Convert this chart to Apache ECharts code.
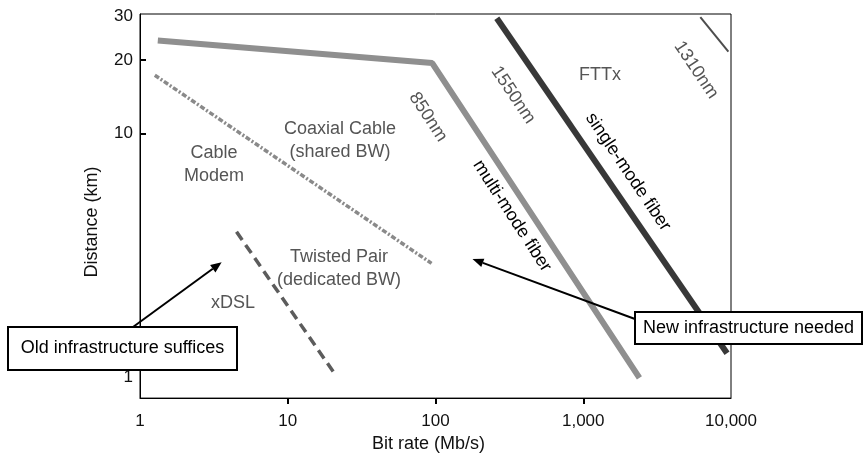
<!DOCTYPE html>
<html>
<head>
<meta charset="utf-8">
<script src="https://cdn.jsdelivr.net/npm/echarts@6.0.0/dist/echarts.min.js"></script>
<style>
  html, body { margin: 0; background: #fff; }
  #chart { width: 865px; height: 458px; }
</style>
</head>
<body>
<div id="chart"></div>
<script>
// bit rate (Mb/s) vs distance (km), both log
var xLabelValues = [1, 10, 100, 1000, 10000];
var xTickValues = [10, 100, 1000];
var yLabelValues = [1, 10, 20, 30];
var yTickValues = [10, 20];

var multiModeRate = [1.32, 95, 2400];
var multiModeDist = [24.0, 19.4, 1.0];
var singleModeRate = [260, 9400];
var singleModeDist = [29.6, 1.26];
var sm1310Rate = [6200, 9600];
var sm1310Dist = [29.9, 21.6];
var coaxRate = [1.26, 94];
var coaxDist = [17.3, 2.94];
var xdslRate = [4.5, 20.3];
var xdslDist = [3.96, 1.06];

// where the two callout arrows point (data space)
var oldArrowTip = [3.57, 2.97];
var newArrowTip = [178, 3.06];

var FONT = '"Liberation Sans", Arial, Helvetica, sans-serif';

function zip(xs, ys) {
  return xs.map(function (x, i) { return [x, ys[i]]; });
}

function lineSeries(name, xs, ys, style) {
  return {
    name: name,
    type: 'line',
    data: zip(xs, ys),
    showSymbol: false,
    symbol: 'none',
    silent: true,
    clip: false,
    lineStyle: style
  };
}

var chart = echarts.init(document.getElementById('chart'), null, { renderer: 'canvas' });

var option = {
  animation: false,
  backgroundColor: '#fff',
  textStyle: { fontFamily: FONT },
  grid: {
    left: 140, top: 14, width: 591, height: 390,
    show: true, borderColor: '#000', borderWidth: 1, backgroundColor: 'transparent'
  },
  xAxis: {
    type: 'log',
    logBase: 10,
    min: 1,
    max: 10000,
    name: 'Bit rate (Mb/s)',
    nameLocation: 'middle',
    nameGap: 36,
    nameTextStyle: { fontSize: 18, color: '#111', fontFamily: FONT, padding: [0, 14, 0, 0] },
    axisLine: { lineStyle: { color: '#000', width: 1 } },
    axisTick: { show: true, inside: false, length: 6, lineStyle: { color: '#000', width: 2 }, customValues: xTickValues },
    axisLabel: {
      customValues: xLabelValues,
      margin: 15,
      fontSize: 17,
      color: '#111',
      fontFamily: FONT,
      formatter: function (v) { return Number(v).toLocaleString('en-US'); }
    },
    splitLine: { show: false },
    minorTick: { show: false }
  },
  yAxis: {
    type: 'log',
    logBase: 10,
    min: 0.826,
    max: 30.8,
    name: 'Distance (km)',
    nameLocation: 'middle',
    nameRotate: 90,
    nameGap: 39,
    nameTextStyle: { fontSize: 18, color: '#111', fontFamily: FONT, padding: [0, 32, 0, 0] },
    axisLine: { lineStyle: { color: '#000', width: 1 } },
    axisTick: { show: true, inside: true, length: 6, lineStyle: { color: '#000', width: 2 }, customValues: yTickValues },
    axisLabel: {
      customValues: yLabelValues,
      margin: 7,
      fontSize: 17,
      color: '#111',
      fontFamily: FONT
    },
    splitLine: { show: false }
  },
  series: [
    lineSeries('multi-mode fiber', multiModeRate, multiModeDist, { color: '#8f8f8f', width: 6 }),
    lineSeries('single-mode fiber 1550nm', singleModeRate, singleModeDist, { color: '#383838', width: 6 }),
    lineSeries('single-mode fiber 1310nm', sm1310Rate, sm1310Dist, { color: '#4d4d4d', width: 2 }),
    lineSeries('Coaxial Cable', coaxRate, coaxDist, { color: '#8a8a8a', width: 3.5, type: [5, 2, 2, 2] }),
    lineSeries('xDSL', xdslRate, xdslDist, { color: '#5c5c5c', width: 3.5, type: [10, 6] })
  ]
};

chart.setOption(option);

function label(text, x, y, opts) {
  opts = opts || {};
  return {
    type: 'text',
    x: x, y: y,
    rotation: (opts.angle || 0) * Math.PI / 180,
    z: 50,
    silent: true,
    style: {
      text: text,
      fill: opts.color || '#555',
      font: '18px ' + FONT,
      align: 'center',
      verticalAlign: 'middle',
      lineHeight: 23
    }
  };
}

function arrow(from, to) {
  var dx = to[0] - from[0], dy = to[1] - from[1];
  var len = Math.sqrt(dx * dx + dy * dy);
  var ux = dx / len, uy = dy / len;
  var headLen = 11, headW = 4.5;
  var bx = to[0] - ux * headLen, by = to[1] - uy * headLen;
  return [
    { type: 'line', z: 60, silent: true,
      shape: { x1: from[0], y1: from[1], x2: bx, y2: by },
      style: { stroke: '#000', lineWidth: 2 } },
    { type: 'polygon', z: 60, silent: true,
      shape: { points: [to, [bx - uy * headW, by + ux * headW], [bx + uy * headW, by - ux * headW]] },
      style: { fill: '#000' } }
  ];
}

function box(text, x, y, w, h) {
  return [
    { type: 'rect', z: 70, silent: true,
      shape: { x: x, y: y, width: w, height: h },
      style: { fill: '#fff', stroke: '#000', lineWidth: 2 } },
    { type: 'text', z: 71, silent: true, x: x + w / 2, y: y + h / 2,
      style: { text: text, fill: '#000', font: '18px ' + FONT, align: 'center', verticalAlign: 'middle' } }
  ];
}

var oldTipPx = chart.convertToPixel({ gridIndex: 0 }, oldArrowTip);
var newTipPx = chart.convertToPixel({ gridIndex: 0 }, newArrowTip);

var elements = [
  label('Cable\nModem', 214, 165),
  label('Coaxial Cable\n(shared BW)', 340, 141),
  label('Twisted Pair\n(dedicated BW)', 339, 269),
  label('xDSL', 233, 303),
  label('FTTx', 600, 75),
  label('850nm', 428, 117, { angle: -57 }),
  label('1550nm', 513, 95, { angle: -56 }),
  label('1310nm', 696, 70, { angle: -56 }),
  label('multi-mode fiber', 512, 216, { angle: -57, color: '#000' }),
  label('single-mode fiber', 628, 172, { angle: -56, color: '#000' })
];
elements = elements
  .concat(arrow([133, 327], oldTipPx))
  .concat(arrow([635, 319], newTipPx))
  .concat(box('Old infrastructure suffices', 8, 327, 229, 43))
  .concat(box('New infrastructure needed', 635, 312, 227, 32));

chart.setOption({ graphic: elements });
</script>
</body>
</html>
